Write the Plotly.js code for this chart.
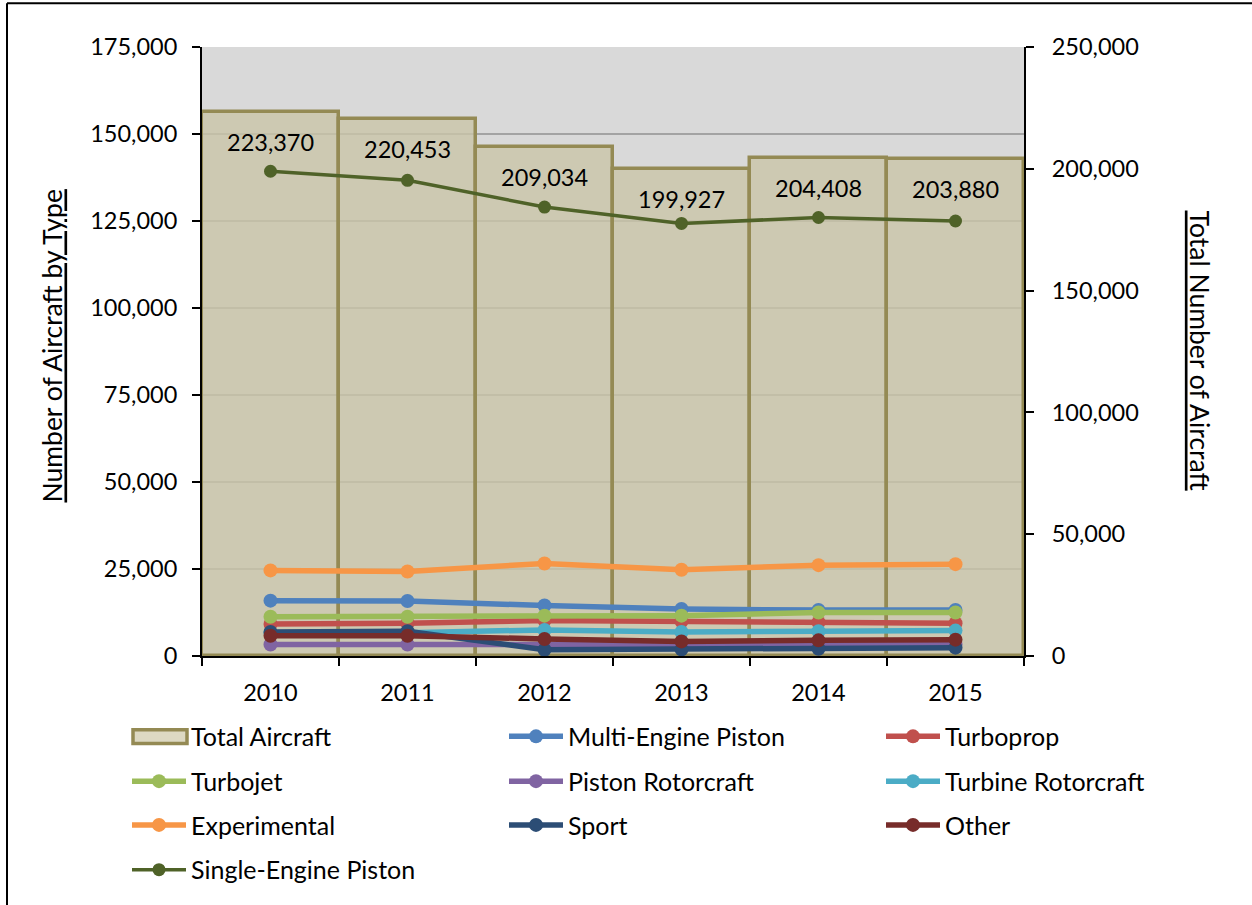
<!DOCTYPE html>
<html>
<head>
<meta charset="utf-8">
<script src="https://cdn.plot.ly/plotly-3.0.1.min.js"></script>
<style>
  html, body { margin: 0; padding: 0; background: #ffffff; }
  #chart { width: 1252px; height: 905px; }
</style>
</head>
<body>
<div id="chart"></div>
<script>
// Aircraft fleet by type, 2010-2015
const years = ['2010', '2011', '2012', '2013', '2014', '2015'];

const totalAircraft      = [223370, 220453, 209034, 199927, 204408, 203880];
const multiEnginePiston  = [15900, 15800, 14500, 13500, 13200, 13200];
const turboprop          = [9200, 9400, 10200, 10000, 9700, 9400];
const turbojet           = [11300, 11300, 11600, 11600, 12500, 12500];
const pistonRotorcraft   = [3300, 3300, 3300, 3200, 3200, 3300];
const turbineRotorcraft  = [6700, 6700, 7500, 6900, 7100, 7300];
const experimental       = [24600, 24300, 26600, 24800, 26100, 26400];
const sport              = [6900, 7100, 1800, 1900, 2100, 2400];
const other              = [5800, 5800, 4900, 4200, 4500, 4700];
const singleEnginePiston = [139300, 136700, 129000, 124300, 126000, 125000];

const FONT = 'Lato, "Open Sans", sans-serif';
const FS_NUM = 23.5;   // tick labels and value labels
const FS_LEG = 25;     // legend entries
const FS_TTL = 26.5;   // axis titles

// plot-area geometry in pixels
const W = 1252, H = 905;
const PL = 202, PR = 1024, PT = 47, PB = 659;
const pw = PR - PL, ph = PB - PT;
const px = v => (v - PL) / pw;
const py = v => (PB - v) / ph;

// legend grid: three columns, four rows
const legendCols = [127, 504, 881];
const legendRows = [740, 785, 829, 874];
const SWATCH_W = 54;

const BAR_FILL = 'rgba(201,196,168,0.8)';
const BAR_EDGE = '#948A54';

let legendCount = 0;
const legends = {};
function nextLegend(col, row) {
  legendCount += 1;
  const key = legendCount === 1 ? 'legend' : 'legend' + legendCount;
  legends[key] = {
    orientation: 'v',
    x: px(legendCols[col]),
    xanchor: 'left',
    y: py(legendRows[row]),
    yanchor: 'middle',
    bgcolor: 'rgba(0,0,0,0)',
    borderwidth: 0,
    itemwidth: SWATCH_W,
    font: { family: FONT, size: FS_LEG, color: '#000000' },
    itemclick: false,
    itemdoubleclick: false
  };
  return key;
}

function lineTrace(name, values, color, col, row, opts) {
  opts = opts || {};
  return {
    type: 'scatter',
    mode: 'lines+markers',
    name: name,
    x: years,
    y: values,
    yaxis: 'y2',
    legend: nextLegend(col, row),
    line: { color: color, width: opts.width || 5.5 },
    marker: { color: color, size: opts.size || 14 },
    hoverinfo: 'name+y'
  };
}

const totalLegend = nextLegend(0, 0);

const traces = [
  {
    type: 'bar',
    name: 'Total Aircraft',
    x: years,
    y: totalAircraft,
    yaxis: 'y',
    showlegend: false,
    width: 1,
    marker: { color: BAR_FILL, line: { color: BAR_EDGE, width: 3.5 } },
    hoverinfo: 'name+y'
  },
  // legend text for the bars; its swatch is the rectangle drawn in shapes below
  {
    type: 'scatter',
    mode: 'lines',
    name: 'Total Aircraft',
    x: [years[0]],
    y: [null],
    yaxis: 'y',
    legend: totalLegend,
    showlegend: true,
    line: { color: 'rgba(0,0,0,0)', width: 0 },
    hoverinfo: 'skip'
  },
  lineTrace('Multi-Engine Piston', multiEnginePiston, '#4F81BD', 1, 0),
  lineTrace('Turboprop', turboprop, '#C0504D', 2, 0),
  lineTrace('Turbojet', turbojet, '#9BBB59', 0, 1),
  lineTrace('Piston Rotorcraft', pistonRotorcraft, '#8064A2', 1, 1),
  lineTrace('Turbine Rotorcraft', turbineRotorcraft, '#4BACC6', 2, 1),
  lineTrace('Experimental', experimental, '#F79646', 0, 2),
  lineTrace('Sport', sport, '#2C4D75', 1, 2),
  lineTrace('Other', other, '#772C2A', 2, 2),
  lineTrace('Single-Engine Piston', singleEnginePiston, '#4F6228', 0, 3, { width: 3.5, size: 13 })
];

// value labels sit inside each total bar, just under its top edge
const labelAnnotations = years.map((yr, i) => ({
  x: i,
  y: totalAircraft[i],
  xref: 'x',
  yref: 'y',
  text: totalAircraft[i].toLocaleString('en-US'),
  showarrow: false,
  xanchor: 'center',
  yanchor: 'middle',
  yshift: -30,
  font: { family: FONT, size: FS_NUM, color: '#000000' }
}));

const titleAnnotations = [
  {
    xref: 'paper', yref: 'paper',
    x: px(52), y: py(348),
    xanchor: 'center', yanchor: 'middle',
    text: '<u>Number of Aircraft by Type</u>',
    textangle: -90,
    showarrow: false,
    font: { family: FONT, size: FS_TTL, color: '#000000' }
  },
  {
    xref: 'paper', yref: 'paper',
    x: px(1200), y: py(352),
    xanchor: 'center', yanchor: 'middle',
    text: '<u>Total Number of Aircraft</u>',
    textangle: 90,
    showarrow: false,
    font: { family: FONT, size: FS_TTL, color: '#000000' }
  }
];

const numAxis = {
  tickformat: ',d',
  ticks: 'outside',
  ticklen: 8,
  tickwidth: 2,
  tickcolor: '#000000',
  showline: true,
  linecolor: '#000000',
  linewidth: 2,
  zeroline: false,
  tickfont: { family: FONT, size: FS_NUM, color: '#000000' },
  fixedrange: true
};

const layout = Object.assign({
  width: W,
  height: H,
  margin: { l: PL, r: W - PR, t: PT, b: H - PB, pad: 0 },
  paper_bgcolor: '#ffffff',
  plot_bgcolor: '#D9D9D9',
  font: { family: FONT, size: FS_NUM, color: '#000000' },
  bargap: 0,
  showlegend: true,
  xaxis: {
    type: 'category',
    range: [-0.5, 5.5],
    tickson: 'boundaries',
    ticks: 'outside',
    ticklen: 8,
    tickwidth: 2,
    tickcolor: '#000000',
    showline: true,
    linecolor: '#000000',
    linewidth: 2,
    showgrid: false,
    ticklabelstandoff: 15,
    tickfont: { family: FONT, size: FS_NUM, color: '#000000' },
    fixedrange: true
  },
  // right-hand axis: totals (bars)
  yaxis: Object.assign({}, numAxis, {
    side: 'right',
    range: [0, 250000],
    dtick: 50000,
    showgrid: false,
    ticklabelstandoff: 13
  }),
  // left-hand axis: counts by type (lines)
  yaxis2: Object.assign({}, numAxis, {
    overlaying: 'y',
    side: 'left',
    range: [0, 175000],
    dtick: 25000,
    showgrid: true,
    gridcolor: '#A3A3A3',
    gridwidth: 1.5,
    ticklabelstandoff: 10
  }),
  annotations: labelAnnotations.concat(titleAnnotations),
  shapes: [
    // chart frame (top and left edges)
    { type: 'line', xref: 'paper', yref: 'paper', x0: px(7), x1: px(1260), y0: py(3), y1: py(3),
      line: { color: '#000000', width: 2 } },
    { type: 'line', xref: 'paper', yref: 'paper', x0: px(7), x1: px(7), y0: py(3), y1: py(910),
      line: { color: '#000000', width: 2 } },
    // legend swatch for the total bars
    { type: 'rect', xref: 'paper', yref: 'paper',
      x0: px(legendCols[0] + 6), x1: px(legendCols[0] + 6 + SWATCH_W),
      y0: py(legendRows[0] - 7), y1: py(legendRows[0] + 7),
      fillcolor: '#DDD9C3', line: { color: BAR_EDGE, width: 3.5 } }
  ]
}, legends);

Plotly.newPlot('chart', traces, layout, { displayModeBar: false, responsive: false });
</script>
</body>
</html>
